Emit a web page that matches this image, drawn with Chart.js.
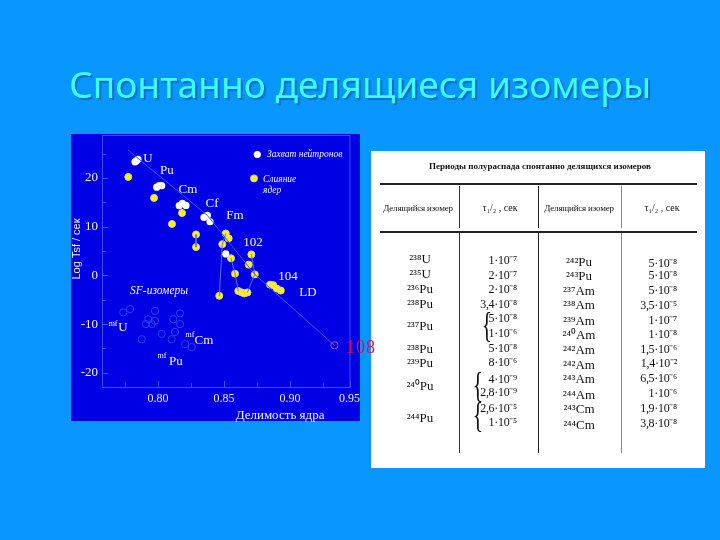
<!DOCTYPE html>
<html lang="ru"><head><meta charset="utf-8">
<style>
html,body{margin:0;padding:0;background:#0a96ff;width:720px;height:540px;overflow:hidden}
#wrap{position:absolute;left:0;top:0;width:720px;height:540px}
#c{position:absolute;left:0;top:0;z-index:2}
#ttl{position:absolute;left:0;top:57px;width:720px;height:54px;margin:0;text-align:center;font:normal 37.2px/54px "Noto Sans",sans-serif;color:#3cfcfc;text-shadow:2px 2px 1px #0f6cc4;white-space:nowrap;z-index:3}
#tbl{position:absolute;left:371px;top:151px;width:334px;height:317px;background:#fff;z-index:1;filter:blur(.35px);color:#111;font-family:"Liberation Serif",serif}
#tbl .t{position:absolute;white-space:nowrap;line-height:1}
#tbl .l{position:absolute;background:#222}
</style>
<script src="https://cdn.jsdelivr.net/npm/chart.js@4/dist/chart.umd.min.js"></script>
</head><body><div id="wrap"><h1 id="ttl"></h1><div id="tbl"></div><canvas id="c" width="720" height="540"></canvas></div>
<script>
// ---------- chart data ----------
const chartTitle = "Спонтанно делящиеся изомеры";
const xAxisTitle = "Делимость ядра";
const yAxisTitle = "Log Tsf / сек";
const whiteX = [.7826,.7837,.7848,.7990,.8010,.8028,.8161,.8184,.8212,.8348,.8374,.8394,.8513,.8752];
const whiteY = [23.3,23.5,23.8,18.1,18.4,18.4,14.3,14.8,14.35,11.9,12.3,11.0,4.4,24.8];
const yellowX = [.7775,.7970,.8182,.8106,.8288,.8288,.8513,.8535,.8487,.8553,.8707,.8687,.8583,.8733,.8464,.8608,.8634,.8654,.8677,.8848,.8873,.8899,.8930,.8727];
const yellowY = [20.2,15.9,12.8,10.55,8.4,5.8,8.6,7.6,6.4,3.5,4.3,2.2,0.35,0.2,-4.2,-3.2,-3.5,-3.7,-3.5,-1.9,-2.0,-2.7,-3.1,19.9];
const isomerX = [.7737,.7788,.7977,.7977,.7927,.7909,.7952,.8028,.7877,.8116,.8167,.8167,.8104,.8129,.8205,.8255];
const isomerY = [-7.6,-6.9,-7.3,-9.3,-9.0,-10,-10,-12,-13.1,-9,-7.8,-10,-13.1,-11.6,-14.1,-14.7];
const element108X = [.9336];
const element108Y = [-14.35];
const trendX = [.7773,.8374,.8733,.9336];
const trendY = [25.7,12.3,0.2,-14.35];
const dropX = [.8487,.8464,null,.8553,.8583,.8608,null,.8707,.8733,.8677,null,.8513,.8487,null,.8288,.8288];
const dropY = [6.4,-4.2,null,3.5,0.35,-3.2,null,4.3,0.2,-3.5,null,8.6,6.4,null,8.4,5.8];
const xTicks = [.775,.8,.825,.85,.875,.9,.925,.945];
const xTickLabels = {"0.8":"0.80","0.85":"0.85","0.9":"0.90","0.945":"0.95"};
const yTicks = [25,20,15,10,5,0,-5,-10,-15,-20];
const yTickLabels = {"20":"20","10":"10","0":"0","-10":"-10","-20":"-20"};
const elementNames = ["U","Pu","Cm","Cf","Fm","102","104","LD"];
const elementX = [.7924,.8068,.8227,.8409,.8583,.8720,.8985,.9136];
const elementY = [23.9,21.4,17.55,14.7,12.2,6.7,-0.2,-3.5];
const isoNames = ["U","Cm","Pu"];
const isoX = [.7735,.8348,.8136];
const isoY = [-10.7,-13.4,-17.6];
const supX = [.7660,.8242,.8030];
const supY = [-9.9,-12.2,-16.6];
const legendTexts = ["Захват нейтронов","Слияние","ядер"];
const legendX = [.8825,.8795,.8795];
const legendY = [24.8,19.7,17.4];

// ---------- table data ----------
const tableTitle = "Периоды полураспада спонтанно делящихся изомеров";
const colHeads = ["Делящийся изомер","τ₁/₂ , сек","Делящийся изомер","τ₁/₂ , сек"];
const isoLeft = ["²³⁸U","²³⁵U","²³⁶Pu","²³⁸Pu","²³⁷Pu","²³⁸Pu","²³⁹Pu","²⁴⁰Pu","²⁴⁴Pu"];
const isoLeftY = [258,273,288,303,325,348,362,385,417];
const tLeft = ["1·10⁻⁷","2·10⁻⁷","2·10⁻⁸","3,4·10⁻⁸","5·10⁻⁸","1·10⁻⁶","5·10⁻⁸","8·10⁻⁶","4·10⁻⁹","2,8·10⁻⁹","2,6·10⁻⁵","1·10⁻⁵"];
const tLeftY = [260,275,289,304,318,333,348,362,379,392,408,422];
const isoRight = ["²⁴²Pu","²⁴³Pu","²³⁷Am","²³⁸Am","²³⁹Am","²⁴⁰Am","²⁴²Am","²⁴²Am","²⁴³Am","²⁴⁴Am","²⁴³Cm","²⁴⁴Cm"];
const isoRightY = [261,275,290,304,320,334,349,364,378,394,408,424];
const tRight = ["5·10⁻⁸","5·10⁻⁸","5·10⁻⁸","3,5·10⁻⁵","1·10⁻⁷","1·10⁻⁸","1,5·10⁻⁶","1,4·10⁻²","6,5·10⁻⁶","1·10⁻⁶","1,9·10⁻⁸","3,8·10⁻⁸"];
const tRightY = [263,275,290,305,320,334,349,363,378,393,408,423];

document.getElementById('ttl').textContent = chartTitle;

// ---------- table drawing ----------
const tbl = document.getElementById('tbl');
function txt(s,x,y,size,anchor,extra){
  const e=document.createElement('div');e.className='t';e.textContent=s;
  e.style.left=(x-371)+'px';e.style.top=(y-151)+'px';e.style.fontSize=size+'px';
  const ax=anchor==='c'?'-50%':anchor==='r'?'-100%':'0';
  e.style.transform='translate('+ax+',-50%)'+(extra&&extra.tf?' '+extra.tf:'');
  if(extra&&extra.w)e.style.fontWeight=extra.w;
  if(extra&&extra.ls)e.style.letterSpacing=extra.ls;
  tbl.appendChild(e);
}
function line(x,y,w,h,col){
  const e=document.createElement('div');e.className='l';
  e.style.cssText='left:'+(x-371)+'px;top:'+(y-151)+'px;width:'+w+'px;height:'+h+'px;'+(col?'background:'+col:'');
  tbl.appendChild(e);
}
txt(tableTitle,540,166,9,'c',{w:'bold'});
line(380,183,317,1.5);line(380,231,317,1.5);
[[459,'#333'],[538,'#222'],[621,'#888']].forEach(v=>{line(v[0],186,1,42,v[1]);line(v[0],233,1,220,v[1]);});
[418,500,579,662].forEach((x,i)=>txt(colHeads[i],x,208,i%2?10:9,'c',i%2?null:{ls:'-.2px'}));
isoLeft.forEach((s,i)=>txt(s,420,isoLeftY[i],13,'c'));
tLeft.forEach((s,i)=>txt(s,517,tLeftY[i],12,'r',{ls:'-.3px'}));
isoRight.forEach((s,i)=>txt(s,579,isoRightY[i],13,'c'));
tRight.forEach((s,i)=>txt(s,677,tRightY[i],12,'r',{ls:'-.3px'}));
[[487,325],[478,385],[478,415]].forEach(b=>txt("{",b[0],b[1],36,'c',{tf:'scaleX(.6)'}));

// ---------- chart drawing ----------
const serif='"Liberation Serif",serif';
const pairs=(xs,ys)=>xs.map((x,i)=>({x,y:ys[i]}));
const paper={id:'paper',
  beforeDraw(ch){const c=ch.ctx;c.save();
    c.fillStyle='#0000e4';c.fillRect(71,134,289,287);
    c.restore();},
  afterDatasetsDraw(ch){
    const c=ch.ctx,a=ch.chartArea,sx=ch.scales.x,sy=ch.scales.y;c.save();
    c.strokeStyle='#3c50f0';c.lineWidth=1;
    c.strokeRect(a.left+.5,a.top+.5,a.right-a.left,a.bottom-a.top);
    c.beginPath();
    xTicks.forEach(v=>{const p=Math.round(sx.getPixelForValue(v))+.5,l=xTickLabels[String(v)]?6:4;c.moveTo(p,a.bottom);c.lineTo(p,a.bottom-l);});
    yTicks.forEach(v=>{const p=Math.round(sy.getPixelForValue(v))+.5,l=yTickLabels[String(v)]?6:4;c.moveTo(a.left,p);c.lineTo(a.left+l,p);});
    c.stroke();
    c.textBaseline='middle';c.textAlign='center';c.fillStyle='#f4f4ff';
    const put=(s,x,y,f,al)=>{c.font=f;c.textAlign=al||'center';c.fillText(s,sx.getPixelForValue(x),sy.getPixelForValue(y));};
    elementNames.forEach((s,i)=>put(s,elementX[i],elementY[i],'13px '+serif));
    isoNames.forEach((s,i)=>put(s,isoX[i],isoY[i],'13px '+serif));
    isoNames.forEach((s,i)=>put('mf',supX[i],supY[i],'8px '+serif));
    put('SF-изомеры',.8008,-3.3,'italic 11.5px '+serif);
    legendTexts.forEach((s,i)=>put(s,legendX[i],legendY[i],'italic 9.5px '+serif,'left'));
    put(xAxisTitle,.8924,-28.8,'13px '+serif);
    c.save();c.translate(77,249);c.rotate(-Math.PI/2);c.font='11px "Liberation Sans",sans-serif';c.fillText(yAxisTitle,0,0);c.restore();
    c.restore();
    c.save();c.font='18px '+serif;c.fillStyle='#e01030';c.textAlign='left';c.textBaseline='middle';
    c.letterSpacing='1px';c.fillText('108',346,348);c.restore();
  }};
new Chart(document.getElementById('c'),{
  type:'scatter',
  data:{datasets:[
    {label:'trend',data:pairs(trendX,trendY),showLine:true,borderColor:'#3f54f0',borderWidth:1,pointRadius:0},
    {label:'drops',data:pairs(dropX,dropY),showLine:true,spanGaps:false,borderColor:'#5e70f2',borderWidth:1,pointRadius:0},
    {label:'SF-изомеры',data:pairs(isomerX,isomerY),pointRadius:3.6,pointBackgroundColor:'transparent',pointBorderColor:'#2c44ee',pointBorderWidth:1},
    {label:'108',data:pairs(element108X,element108Y),pointRadius:3.6,pointBackgroundColor:'transparent',pointBorderColor:'#c84aa8',pointBorderWidth:1},
    {label:'Слияние ядер',data:pairs(yellowX,yellowY),pointRadius:3.5,pointBackgroundColor:'#fff020',pointBorderColor:'#d8d890',pointBorderWidth:1},
    {label:'Захват нейтронов',data:pairs(whiteX,whiteY),pointRadius:3.6,pointBackgroundColor:'#ffffff',pointBorderColor:'#ffffff',pointBorderWidth:0}
  ]},
  options:{
    responsive:false,animation:false,
    layout:{padding:{left:71,right:370.5,top:135,bottom:119}},
    plugins:{legend:{display:false},tooltip:{enabled:false},title:{display:false}},
    scales:{
      x:{type:'linear',min:.7576,max:.945,
        afterBuildTicks:s=>{s.ticks=xTicks.map(v=>({value:v}));},
        afterFit:s=>{s.height=34;},
        grid:{display:false,tickLength:0},border:{display:false},
        ticks:{autoSkip:false,maxRotation:0,padding:5,color:'#f0f0ff',font:{family:serif,size:12},callback:v=>xTickLabels[String(v)]||''}},
      y:{type:'linear',min:-22.9,max:28.8,
        afterBuildTicks:s=>{s.ticks=yTicks.map(v=>({value:v}));},
        afterFit:s=>{s.width=31;},
        grid:{display:false,tickLength:0},border:{display:false},
        ticks:{autoSkip:false,padding:4,color:'#f0f0ff',font:{family:serif,size:13},callback:v=>yTickLabels[String(v)]||''}}
    }
  },
  plugins:[paper]
});
</script></body></html>
